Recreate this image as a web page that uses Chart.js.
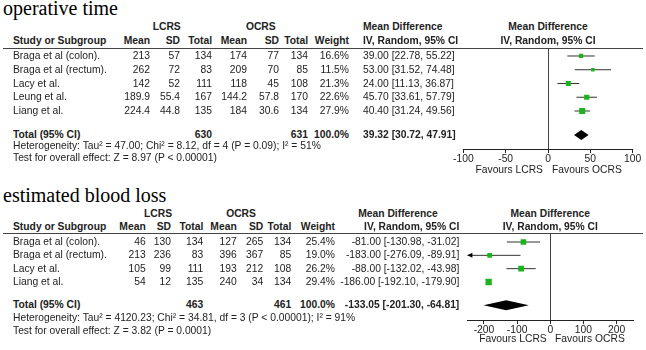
<!DOCTYPE html>
<html>
<head>
<meta charset="utf-8">
<script src="https://cdn.jsdelivr.net/npm/chart.js@4.4.1/dist/chart.umd.min.js"></script>
<style>
body { margin: 0; background: #fff; }
#page { position: relative; width: 646px; height: 350px; overflow: hidden;
  font-family: "Liberation Sans", Arial, sans-serif; font-size: 10.3px; color: #222; }
.t { position: absolute; line-height: 12px; white-space: nowrap; }
.b { font-weight: bold; }
.title { position: absolute; left: 3px; line-height: 24px; white-space: nowrap;
  font-family: "Liberation Serif", serif; font-size: 20px; color: #000; }
.rule { position: absolute; left: 3px; width: 640px; height: 1px; background: #444; }
canvas { position: absolute; left: 440px; }
</style>
</head>
<body>
<div id="page">
  <div class="title" style="top:-4px">operative time</div>
  <div class="title" style="top:183px">estimated blood loss</div>
  <canvas id="plotTime" width="206" height="133" style="top:40px"></canvas>
  <canvas id="plotBlood" width="206" height="118" style="top:226px"></canvas>
</div>
<script>
// ---- operative time ----
var studiesTime = ['Braga et al (colon).', 'Braga et al (rectum).', 'Lacy et al.', 'Leung et al.', 'Liang et al.'];
var lcrsMeanTime = ['213', '262', '142', '189.9', '224.4'];
var lcrsSdTime = ['57', '72', '52', '55.4', '44.8'];
var lcrsNTime = [134, 83, 111, 167, 135];
var ocrsMeanTime = ['174', '209', '118', '144.2', '184'];
var ocrsSdTime = ['77', '70', '45', '57.8', '30.6'];
var ocrsNTime = [134, 85, 108, 170, 134];
var weightTime = [16.6, 11.5, 21.3, 22.6, 27.9];
var mdTime = [39.00, 53.00, 24.00, 45.70, 40.40];
var loTime = [22.78, 31.52, 11.13, 33.61, 31.24];
var hiTime = [55.22, 74.48, 36.87, 57.79, 49.56];
var totalTime = [39.32, 30.72, 47.91];
var hetTime = 'Heterogeneity: Tau² = 47.00; Chi² = 8.12, df = 4 (P = 0.09); I² = 51%';
var testTime = 'Test for overall effect: Z = 8.97 (P < 0.00001)';
var ticksTime = [-100, -50, 0, 50, 100];

// ---- estimated blood loss ----
var studiesBlood = ['Braga et al (colon).', 'Braga et al (rectum).', 'Lacy et al.', 'Liang et al.'];
var lcrsMeanBlood = ['46', '213', '105', '54'];
var lcrsSdBlood = ['130', '236', '99', '12'];
var lcrsNBlood = [134, 83, 111, 135];
var ocrsMeanBlood = ['127', '396', '193', '240'];
var ocrsSdBlood = ['265', '367', '212', '34'];
var ocrsNBlood = [134, 85, 108, 134];
var weightBlood = [25.4, 19.0, 26.2, 29.4];
var mdBlood = [-81.00, -183.00, -88.00, -186.00];
var loBlood = [-130.98, -276.09, -132.02, -192.10];
var hiBlood = [-31.02, -89.91, -43.98, -179.90];
var totalBlood = [-133.05, -201.30, -64.81];
var hetBlood = 'Heterogeneity: Tau² = 4120.23; Chi² = 34.81, df = 3 (P < 0.00001); I² = 91%';
var testBlood = 'Test for overall effect: Z = 3.82 (P = 0.0001)';
var ticksBlood = [-200, -100, 0, 100, 200];

var page = document.getElementById('page');

function text(str, x, y, align, bold) {
    var d = document.createElement('div');
    d.className = 't' + (bold ? ' b' : '');
    d.textContent = str;
    d.style.left = x + 'px';
    d.style.top = (y - 6) + 'px';
    if (align === 'r') d.style.transform = 'translateX(-100%)';
    if (align === 'c') d.style.transform = 'translateX(-50%)';
    page.appendChild(d);
}

function ci(md, lo, hi) {
    return md.toFixed(2) + ' [' + lo.toFixed(2) + ', ' + hi.toFixed(2) + ']';
}

function sum(a) {
    return a.reduce(function(s, v) { return s + v; }, 0);
}

function table(d, L) {
    var c = L.cols;
    text('LCRS', L.lcrsC, L.h1, 'c', true);
    text('OCRS', L.ocrsC, L.h1, 'c', true);
    text('Mean Difference', L.mdHead[0], L.h1, L.mdHead[1], true);
    text('Mean Difference', L.plotC, L.h1, 'c', true);
    text('Study or Subgroup', 13, L.h2, 'l', true);
    ['Mean', 'SD', 'Total', 'Mean', 'SD', 'Total', 'Weight'].forEach(function(h, i) {
        text(h, c[i], L.h2, 'r', true);
    });
    text('IV, Random, 95% CI', L.ivHead[0], L.h2, L.ivHead[1], true);
    text('IV, Random, 95% CI', L.plotC, L.h2, 'c', true);

    var rule = document.createElement('div');
    rule.className = 'rule';
    rule.style.top = L.rule + 'px';
    page.appendChild(rule);

    d.studies.forEach(function(s, i) {
        var y = L.row0 + i * L.step;
        text(s, 13, y, 'l');
        text(d.lm[i], c[0], y, 'r');
        text(d.ls[i], c[1], y, 'r');
        text(String(d.ln[i]), c[2], y, 'r');
        text(d.om[i], c[3], y, 'r');
        text(d.os[i], c[4], y, 'r');
        text(String(d.on[i]), c[5], y, 'r');
        text(d.w[i].toFixed(1) + '%', c[6], y, 'r');
        text(ci(d.md[i], d.lo[i], d.hi[i]), L.mdX[0], y, L.mdX[1]);
    });
    var ty = L.row0 + (d.studies.length + 0.75) * L.step;
    text('Total (95% CI)', 13, ty, 'l', true);
    text(String(sum(d.ln)), c[2], ty, 'r', true);
    text(String(sum(d.on)), c[5], ty, 'r', true);
    text('100.0%', c[6], ty, 'r', true);
    text(ci(d.total[0], d.total[1], d.total[2]), L.mdX[0], ty, L.mdX[1], true);
    text(d.het, 13, L.het, 'l');
    text(d.test, 13, L.test, 'l');
    text('Favours LCRS', L.favL, L.fav, 'r');
    text('Favours OCRS', L.favR, L.fav, 'l');
}

// diamond for the pooled estimate and arrows for clipped intervals
var forestExtras = {
    id: 'forestExtras',
    afterDatasetsDraw: function(chart, args, opts) {
        var ctx = chart.ctx, xs = chart.scales.x, ys = chart.scales.y, area = chart.chartArea;
        ctx.save();
        ctx.fillStyle = '#000';
        var y = ys.getPixelForValue(opts.row);
        ctx.beginPath();
        ctx.moveTo(xs.getPixelForValue(opts.total[1]), y);
        ctx.lineTo(xs.getPixelForValue(opts.total[0]), y - 5);
        ctx.lineTo(xs.getPixelForValue(opts.total[2]), y);
        ctx.lineTo(xs.getPixelForValue(opts.total[0]), y + 5);
        ctx.closePath();
        ctx.fill();
        opts.lo.forEach(function(v, i) {
            if (v < xs.min) {
                var yy = ys.getPixelForValue(i + 1);
                ctx.beginPath();
                ctx.moveTo(area.left, yy);
                ctx.lineTo(area.left + 5, yy - 2.5);
                ctx.lineTo(area.left + 5, yy + 2.5);
                ctx.closePath();
                ctx.fill();
            }
        });
        ctx.restore();
    }
};

function forest(id, d, P) {
    var datasets = [];
    d.md.forEach(function(v, i) {
        datasets.push({
            type: 'line',
            data: [{ x: d.lo[i], y: i + 1 }, { x: d.hi[i], y: i + 1 }],
            borderColor: '#333',
            borderWidth: 1,
            pointRadius: 0,
            order: 2
        });
    });
    datasets.push({
        type: 'scatter',
        data: d.md.map(function(v, i) { return { x: v, y: i + 1 }; }),
        pointStyle: 'rect',
        pointRadius: d.w.map(function(w) { return (1.6 + w * 0.16) / Math.SQRT2; }),
        backgroundColor: '#1cb41c',
        borderWidth: 0,
        order: 1
    });

    return new Chart(document.getElementById(id).getContext('2d'), {
        type: 'scatter',
        data: { datasets: datasets },
        plugins: [forestExtras],
        options: {
            responsive: false,
            animation: false,
            events: [],
            layout: { padding: { left: P.left, right: P.right, top: P.top, bottom: 0 } },
            plugins: {
                legend: { display: false },
                tooltip: { enabled: false },
                forestExtras: { row: d.studies.length + 1.75, total: d.total, lo: d.lo }
            },
            scales: {
                x: {
                    type: 'linear',
                    min: P.min,
                    max: P.max,
                    afterBuildTicks: function(s) { s.ticks = d.ticks.map(function(v) { return { value: v }; }); },
                    afterFit: function(s) { s.height = 24; },
                    grid: {
                        drawOnChartArea: true,
                        color: function(c) { return c.tick && c.tick.value === 0 ? '#444' : 'rgba(0,0,0,0)'; },
                        tickColor: '#222',
                        tickLength: 4
                    },
                    border: { display: true, color: '#222', width: 1 },
                    ticks: {
                        color: '#222',
                        padding: 0,
                        maxRotation: 0,
                        autoSkip: false,
                        font: { family: 'Liberation Sans', size: 10.3 }
                    }
                },
                y: { type: 'linear', display: false, reverse: true, min: P.ymin, max: P.ymax }
            }
        }
    });
}

var dataTime = {
    studies: studiesTime, lm: lcrsMeanTime, ls: lcrsSdTime, ln: lcrsNTime,
    om: ocrsMeanTime, os: ocrsSdTime, on: ocrsNTime, w: weightTime,
    md: mdTime, lo: loTime, hi: hiTime, total: totalTime,
    het: hetTime, test: testTime, ticks: ticksTime
};
var dataBlood = {
    studies: studiesBlood, lm: lcrsMeanBlood, ls: lcrsSdBlood, ln: lcrsNBlood,
    om: ocrsMeanBlood, os: ocrsSdBlood, on: ocrsNBlood, w: weightBlood,
    md: mdBlood, lo: loBlood, hi: hiBlood, total: totalBlood,
    het: hetBlood, test: testBlood, ticks: ticksBlood
};

table(dataTime, {
    h1: 27, h2: 41, rule: 48, row0: 56, step: 13.75, het: 146, test: 158,
    cols: [150, 180, 212, 247, 279, 308, 349],
    lcrsC: 166.7, ocrsC: 260.8, mdHead: [363, 'l'], ivHead: [363, 'l'], mdX: [363, 'l'],
    plotC: 548, fav: 170, favL: 543, favR: 552
});
table(dataBlood, {
    h1: 213.5, h2: 227, rule: 233, row0: 242, step: 13.33, het: 318, test: 331,
    cols: [145.7, 171, 203.3, 236.7, 263.3, 291.3, 335],
    lcrsC: 158, ocrsC: 241, mdHead: [398, 'c'], ivHead: [459.3, 'r'], mdX: [459.3, 'r'],
    plotC: 550.3, fav: 338.5, favL: 546.7, favR: 555
});

forest('plotTime', dataTime, { min: -100, max: 100, left: 23.3, right: 13.3, top: 8.5, ymin: 0.455, ymax: 7.764 });
forest('plotBlood', dataBlood, { min: -250, max: 250, left: 27.4, right: 12.8, top: 7.5, ymin: 0.362, ymax: 6.851 });
</script>
</body>
</html>
